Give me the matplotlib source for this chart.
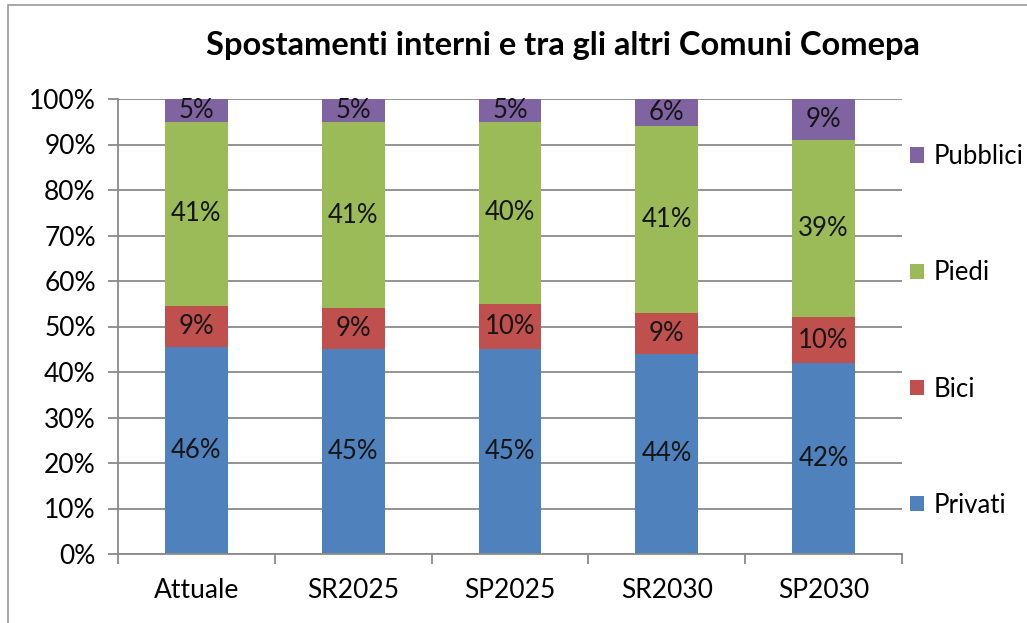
import matplotlib.pyplot as plt
from matplotlib.patches import Rectangle
import numpy as np

plt.rcParams['font.family'] = ['Lato', 'DejaVu Sans']

# mode shares (%) per scenario
scenari = ["Attuale", "SR2025", "SP2025", "SR2030", "SP2030"]
privati = [46, 45, 45, 44, 42]
bici = [9, 9, 10, 9, 10]
piedi = [41, 41, 40, 41, 39]
pubblici = [5, 5, 5, 6, 9]

series = [
    ("Privati", privati, "#4F81BD"),
    ("Bici", bici, "#C0504D"),
    ("Piedi", piedi, "#9BBB59"),
    ("Pubblici", pubblici, "#8064A2"),
]

fig = plt.figure(figsize=(10.27, 6.23), dpi=100)
ax = fig.add_axes([118 / 1027, 1 - 554 / 623, (902 - 118) / 1027, (554 - 99) / 623])

# outer chart frame
fig.patches.append(Rectangle((8 / 1027, -0.1), 1.2, 1 - 5 / 623 + 0.1,
                             transform=fig.transFigure, fill=False,
                             edgecolor="#9a9a9a", linewidth=1.2))

totals = np.sum([s[1] for s in series], axis=0)
x = np.arange(len(scenari))
bottom = np.zeros(len(scenari))
handles = []
for name, vals, color in series:
    share = np.array(vals) / totals * 100
    bars = ax.bar(x, share, 0.4, bottom=bottom, color=color, label=name, zorder=2)
    ax.bar_label(bars, labels=[f"{v}%" for v in vals], label_type="center",
                 fontsize=18.5, color="#151515")
    bottom += share
    handles.append(bars)

ax.set_xlim(-0.5, len(scenari) - 0.5)
ax.set_ylim(0, 100)
ax.set_yticks(np.arange(0, 101, 10))
ax.set_yticklabels([f"{t}%" for t in range(0, 101, 10)])
ax.yaxis.grid(True, color="#8a8a8a", linewidth=1.3, zorder=0)
ax.set_axisbelow(True)
ax.tick_params(axis="y", length=7, width=1.3, color="#8a8a8a", labelsize=19, pad=9)

# category ticks sit on the boundaries between bars
ax.set_xticks(np.arange(-0.5, len(scenari), 1.0))
ax.set_xticklabels([])
ax.set_xticks(x, minor=True)
ax.set_xticklabels(scenari, minor=True, fontsize=19)
ax.tick_params(axis="x", which="major", length=7, width=1.3, color="#8a8a8a")
ax.tick_params(axis="x", which="minor", length=0, pad=17)

for side in ("top", "right"):
    ax.spines[side].set_visible(False)
for side in ("left", "bottom"):
    ax.spines[side].set_color("#8a8a8a")
    ax.spines[side].set_linewidth(1.3)

fig.text(563 / 1027, 1 - 45 / 623, "Spostamenti interni e tra gli altri Comuni Comepa",
         ha="center", va="center", fontsize=23.5, fontweight="bold")

fig.legend(handles[::-1], [s[0] for s in series][::-1],
           loc="center left", bbox_to_anchor=(900 / 1027, 1 - 331 / 623),
           frameon=False, fontsize=18.5, handlelength=0.55, handleheight=0.55,
           handletextpad=0.35, labelspacing=3.55, borderaxespad=0)

fig.savefig("out.png", dpi=100)
